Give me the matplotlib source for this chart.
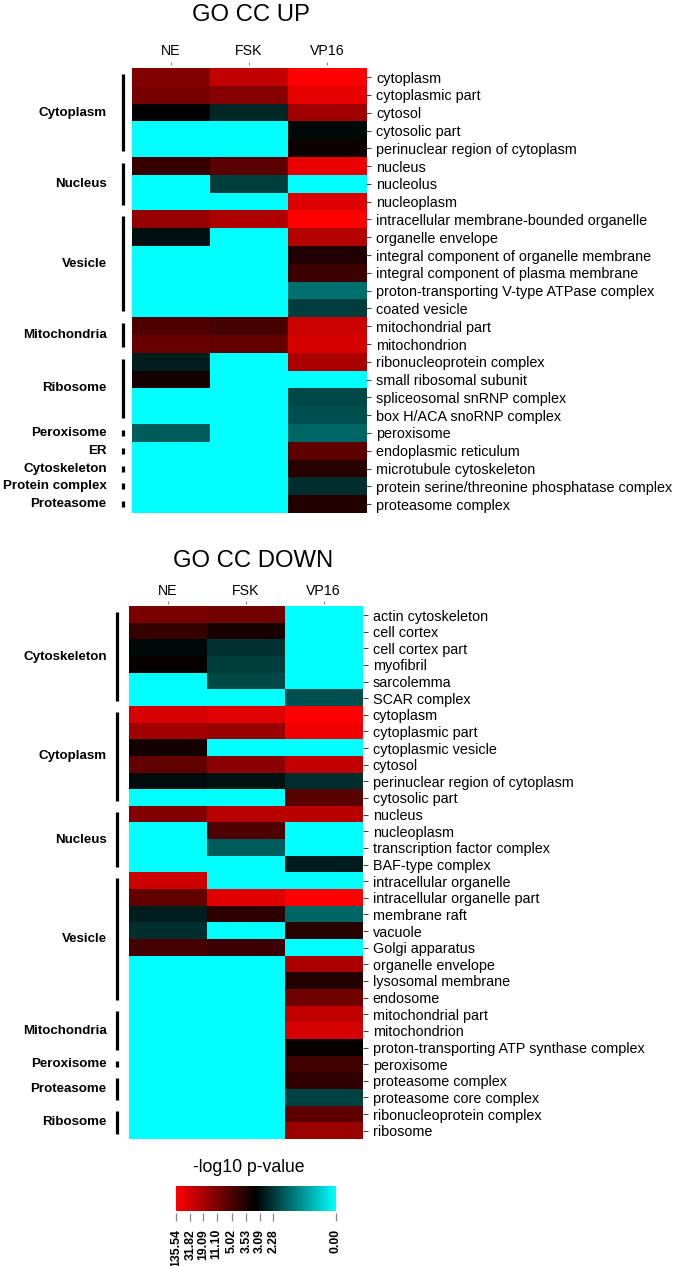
import numpy as np
import matplotlib
matplotlib.use('agg')
import matplotlib.pyplot as plt
from matplotlib.colors import LinearSegmentedColormap

plt.rcParams['font.family'] = ['Liberation Sans', 'DejaVu Sans']

# DATA ------------------------------------------------------------------------
samples = ['NE', 'FSK', 'VP16']

# colour scale of the legend: -log10 p-value break labels
scale_labels = ['135.54', '31.82', '19.09', '11.10', '5.02', '3.53', '3.09', '2.28', '0.00']
scale_vals = [135.54, 31.82, 19.09, 11.10, 5.02, 3.53, 3.09, 2.28, 0.00]

# GO CC UP
up_terms = ['cytoplasm', 'cytoplasmic part', 'cytosol', 'cytosolic part',
            'perinuclear region of cytoplasm', 'nucleus', 'nucleolus', 'nucleoplasm',
            'intracellular membrane-bounded organelle', 'organelle envelope',
            'integral component of organelle membrane',
            'integral component of plasma membrane',
            'proton-transporting V-type ATPase complex', 'coated vesicle',
            'mitochondrial part', 'mitochondrion', 'ribonucleoprotein complex',
            'small ribosomal subunit', 'spliceosomal snRNP complex',
            'box H/ACA snoRNP complex', 'peroxisome', 'endoplasmic reticulum',
            'microtubule cytoskeleton',
            'protein serine/threonine phosphatase complex', 'proteasome complex']
up_ne = [11.6, 10.2, 3.25, 0, 0, 4.3, 0, 0, 15.5, 3.04, 0, 0, 0, 0,
         5.4, 8.4, 2.8, 3.43, 0, 0, 1.89, 0, 0, 0, 0]
up_fsk = [27.4, 12.6, 2.65, 0, 0, 6.6, 2.23, 0, 21.2, 0, 0, 0, 0, 0,
          4.8, 7.8, 0, 0, 0, 0, 0, 0, 0, 0, 0]
up_vp16 = [135.5, 79.0, 17.5, 3.12, 3.36, 90.0, 0, 56.0, 135.5, 22.8, 3.6, 4.5, 1.66, 2.23,
           30.5, 45.5, 19.6, 0, 2.12, 2.01, 1.78, 7.2, 3.8, 2.5, 3.7]
up_groups = ['Cytoplasm', 'Nucleus', 'Vesicle', 'Mitochondria', 'Ribosome',
             'Peroxisome', 'ER', 'Cytoskeleton', 'Protein complex', 'Proteasome']
up_group_sizes = [5, 3, 6, 2, 4, 1, 1, 1, 1, 1]

# GO CC DOWN
down_terms = ['actin cytoskeleton', 'cell cortex', 'cell cortex part', 'myofibril',
              'sarcolemma', 'SCAR complex', 'cytoplasm', 'cytoplasmic part',
              'cytoplasmic vesicle', 'cytosol', 'perinuclear region of cytoplasm',
              'cytosolic part', 'nucleus', 'nucleoplasm', 'transcription factor complex',
              'BAF-type complex', 'intracellular organelle', 'intracellular organelle part',
              'membrane raft', 'vacuole', 'Golgi apparatus', 'organelle envelope',
              'lysosomal membrane', 'endosome', 'mitochondrial part', 'mitochondrion',
              'proton-transporting ATP synthase complex', 'peroxisome',
              'proteasome complex', 'proteasome core complex',
              'ribonucleoprotein complex', 'ribosome']
down_ne = [10.8, 4.3, 3.12, 3.29, 0, 0, 45.5, 17.5, 3.43, 7.8, 3.10, 0,
           11.6, 0, 0, 0, 30.5, 7.8, 2.8, 2.5, 4.8, 0, 0, 0,
           0, 0, 0, 0, 0, 0, 0, 0]
down_fsk = [9.6, 3.48, 2.4, 2.23, 2.12, 0, 67.5, 16.5, 0, 13.6, 3.0, 0,
            24.3, 5.4, 1.89, 0, 0, 67.5, 4.0, 0, 4.5, 0, 0, 0,
            0, 0, 0, 0, 0, 0, 0, 0]
down_vp16 = [0, 0, 0, 0, 0, 2.01, 135.5, 102.0, 0, 27.4, 2.5, 6.6,
             24.3, 0, 0, 2.8, 0, 135.5, 1.78, 3.8, 0, 19.6, 3.7, 9.6,
             27.4, 45.5, 3.29, 4.6, 4.1, 2.18, 7.2, 16.5]
down_groups = ['Cytoskeleton', 'Cytoplasm', 'Nucleus', 'Vesicle', 'Mitochondria',
               'Peroxisome', 'Proteasome', 'Ribosome']
down_group_sizes = [6, 6, 4, 8, 3, 1, 2, 2]
# END DATA --------------------------------------------------------------------

W, H = 675, 1266
# position of each break label along the colour key (0 = red end, 1 = cyan end)
scale_pos = [0.0, 0.09, 0.17, 0.255, 0.35, 0.44, 0.525, 0.61, 1.0]
cmap = LinearSegmentedColormap.from_list('rbc', ['#FF0000', '#000000', '#00FFFF'])


def to_scale(values):
    v = np.asarray(values, dtype=float)
    return np.interp(v, scale_vals[::-1], scale_pos[::-1])


def rect(left, top, right, bottom):
    return [left / W, 1 - bottom / H, (right - left) / W, (bottom - top) / H]


def heatmap(fig, box, heat_top, terms, cols, groups, sizes, bar_x, lab_x, pad_top):
    left, top, right, bottom = box
    ax = fig.add_axes(rect(left, top, right, bottom))
    mat = np.column_stack([to_scale(c) for c in cols])
    n = len(terms)
    ax.imshow(mat, cmap=cmap, vmin=0, vmax=1, aspect='auto', interpolation='nearest')
    row_px = (bottom - heat_top) / n
    ax.set_xlim(-0.5, 2.5)
    ax.set_ylim(n - 0.5, -0.5 - (heat_top - top) / row_px)
    for s in ax.spines.values():
        s.set_visible(False)
    ax.xaxis.tick_top()
    ax.set_xticks(range(3))
    ax.set_xticklabels(samples, fontsize=10.2)
    ax.tick_params(axis='x', length=2.5, width=0.8, color='#888888', pad=pad_top)
    ax.yaxis.tick_right()
    ax.set_yticks(range(n))
    ax.set_yticklabels(terms, fontsize=10.4)
    ax.tick_params(axis='y', length=3.6, width=0.8, color='#444444', pad=3.6)

    # group brackets on the left
    tr = ax.get_yaxis_transform()
    start = 0
    for name, size in zip(groups, sizes):
        y0 = start - 0.5 + 0.33
        y1 = start + size - 0.5 - 0.33
        ax.plot([bar_x, bar_x], [y0, y1], color='black', lw=2.3,
                solid_capstyle='butt', transform=tr, clip_on=False)
        ax.text(lab_x, start + (size - 1) / 2.0, name, transform=tr,
                ha='right', va='center', fontsize=9.6, fontweight='bold')
        start += size
    return ax


fig = plt.figure(figsize=(W / 100, H / 100), dpi=100)

# GO CC UP
box_up = (131.7, 65, 366, 513)
heatmap(fig, box_up, 68.3, up_terms, [up_ne, up_fsk, up_vp16],
        up_groups, up_group_sizes,
        (122.5 - 131.7) / (366 - 131.7), (106.7 - 131.7) / (366 - 131.7), 2.5)
fig.text(251 / W, 1 - 20.7 / H, 'GO CC UP', ha='center', va='baseline', fontsize=17.2)

# GO CC DOWN
box_dn = (129, 604, 362.7, 1139)
heatmap(fig, box_dn, 606.7, down_terms, [down_ne, down_fsk, down_vp16],
        down_groups, down_group_sizes,
        (117 - 129) / (362.7 - 129), (106.7 - 129) / (362.7 - 129), 2.0)
fig.text(253 / W, 1 - 567.3 / H, 'GO CC DOWN', ha='center', va='baseline', fontsize=17.2)

# colour key
cax = fig.add_axes(rect(176, 1185.7, 335.7, 1213.3))
gap = 2.6 / 25.0
grad = np.linspace(0, 1, 256).reshape(1, -1)
cax.imshow(grad, cmap=cmap, vmin=0, vmax=1, aspect='auto',
           extent=[0, 1, 0, 1], interpolation='bilinear')
cax.set_xlim(0, 1)
cax.set_ylim(-gap, 1)
for s in cax.spines.values():
    s.set_visible(False)
cax.set_yticks([])
cax.set_xticks(scale_pos)
cax.set_xticklabels(scale_labels, rotation=90, fontsize=8.8, fontweight='bold')
cax.tick_params(axis='x', length=6, width=0.9, color='#888888', pad=5.3)
fig.text(249 / W, 1 - 1172 / H, '-log10 p-value', ha='center', va='baseline', fontsize=12.7)

fig.savefig('out.png', dpi=100)
plt.close(fig)
